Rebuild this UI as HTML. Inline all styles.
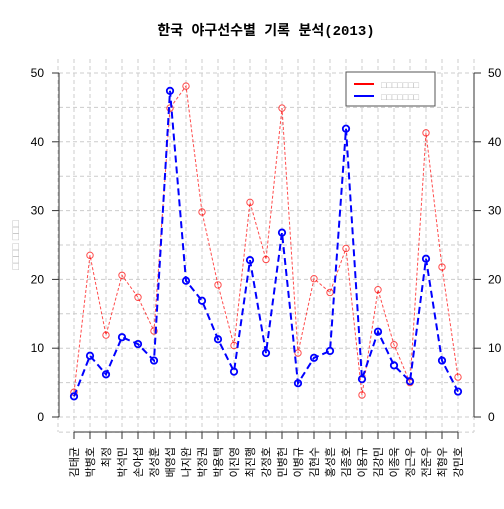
<!DOCTYPE html>
<html><head><meta charset="utf-8"><style>
body{margin:0;background:#fff}
svg text{font-family:"Liberation Sans","Noto Sans CJK KR",sans-serif}
</style></head><body>
<svg id="chart" width="504" height="504" xmlns="http://www.w3.org/2000/svg">
<text x="266" y="35" text-anchor="middle" font-size="14" font-weight="bold" style="font-family:'Liberation Mono','Noto Sans CJK KR',monospace">한국 야구선수별 기록 분석(2013)</text>
<text transform="translate(19,245) rotate(-90)" text-anchor="middle" font-size="11" fill="#bbb">□□□□ □□□</text>
<g id="grid"></g>
<g id="axes"></g>
<g id="series"></g>
<g>
<rect x="346" y="72" width="89" height="34" fill="#fff" stroke="#555" stroke-width="1"/>
<line x1="354" y1="84" x2="374" y2="84" stroke="red" stroke-width="2"/>
<line x1="354" y1="96" x2="374" y2="96" stroke="blue" stroke-width="2"/>
<text x="381" y="88" font-size="9" fill="#bbb">□□□□□□□</text>
<text x="381" y="100" font-size="9" fill="#bbb">□□□□□□□</text>
</g>
</svg>
<script>
const players=["김태균","박병호","최정","박석민","손아섭","정성훈","배영섭","나지완","박정권","박용택","이진영","최진행","강정호","민병헌","이병규","김현수","홍성흔","김종호","이용규","김강민","이종욱","정근우","전준우","최형우","강민호"];
const redValues=[3.6,23.5,11.9,20.6,17.4,12.5,44.9,48.1,29.8,19.2,10.4,31.2,22.9,44.9,9.3,20.1,18.1,24.5,3.2,18.5,10.5,5.0,41.3,21.8,5.8];
const blueValues=[3.0,8.9,6.2,11.6,10.6,8.2,47.4,19.8,16.9,11.3,6.6,22.8,9.3,26.8,4.9,8.6,9.6,41.9,5.5,12.4,7.5,5.2,23.0,8.2,3.7];
const yTicks=[0,10,20,30,40,50];
const NS="http://www.w3.org/2000/svg";
const X=i=>74+i*16, Y=v=>417-v*6.88;
function mk(p,t,a){const e=document.createElementNS(NS,t);for(const k in a)e.setAttribute(k,a[k]);p.appendChild(e);return e;}
const grid=document.getElementById('grid'),axes=document.getElementById('axes'),ser=document.getElementById('series');
for(let i=-1;i<=25;i++){const l=mk(grid,'line',{x1:X(i),x2:X(i),y1:59,y2:432,stroke:'#ccc','stroke-dasharray':'4,3'});

}
const hLevels=[-2.2,0,5,10,15,20,25,30,35,40,45,50];
hLevels.forEach(v=>{const l=mk(grid,'line',{x1:59,x2:474,y1:Y(v),y2:Y(v),stroke:'#ccc','stroke-dasharray':'4,3'});

});
mk(axes,'line',{x1:59,x2:59,y1:Y(0),y2:Y(50),stroke:'#333'});
mk(axes,'line',{x1:474,x2:474,y1:Y(0),y2:Y(50),stroke:'#333'});
mk(axes,'line',{x1:X(0),x2:X(players.length-1),y1:432,y2:432,stroke:'#333'});
yTicks.forEach(v=>{
mk(axes,'line',{x1:52,x2:59,y1:Y(v),y2:Y(v),stroke:'#333'});
mk(axes,'line',{x1:474,x2:481,y1:Y(v),y2:Y(v),stroke:'#333'});
const t=mk(axes,'text',{x:44,y:Y(v)+4,'text-anchor':'end','font-size':12});t.textContent=v;


const t2=mk(axes,'text',{x:488,y:Y(v)+4,'font-size':12});t2.textContent=v;

});
players.forEach((p,i)=>{
mk(axes,'line',{x1:X(i),x2:X(i),y1:432,y2:439,stroke:'#333'});
const t=mk(axes,'text',{transform:`translate(${X(i)+4},447) rotate(-90)`,'text-anchor':'end','font-size':11});t.textContent=p;

});
function draw(vals,col,w,dash,name){
const pl=mk(ser,'polyline',{points:vals.map((v,i)=>X(i)+','+Y(v)).join(' '),fill:'none',stroke:col,'stroke-width':w,'stroke-dasharray':dash,'stroke-opacity':col=='red'?0.7:1});


vals.forEach((v,i)=>{const c=mk(ser,'circle',{cx:X(i),cy:Y(v),r:3.2,fill:'none',stroke:col,'stroke-width':col=='red'?1:1.8,'stroke-opacity':col=='red'?0.7:1});

});}
draw(redValues,'red',1,'3,2','red-series');
draw(blueValues,'blue',2,'7,4','blue-series');
</script>
</body></html>
